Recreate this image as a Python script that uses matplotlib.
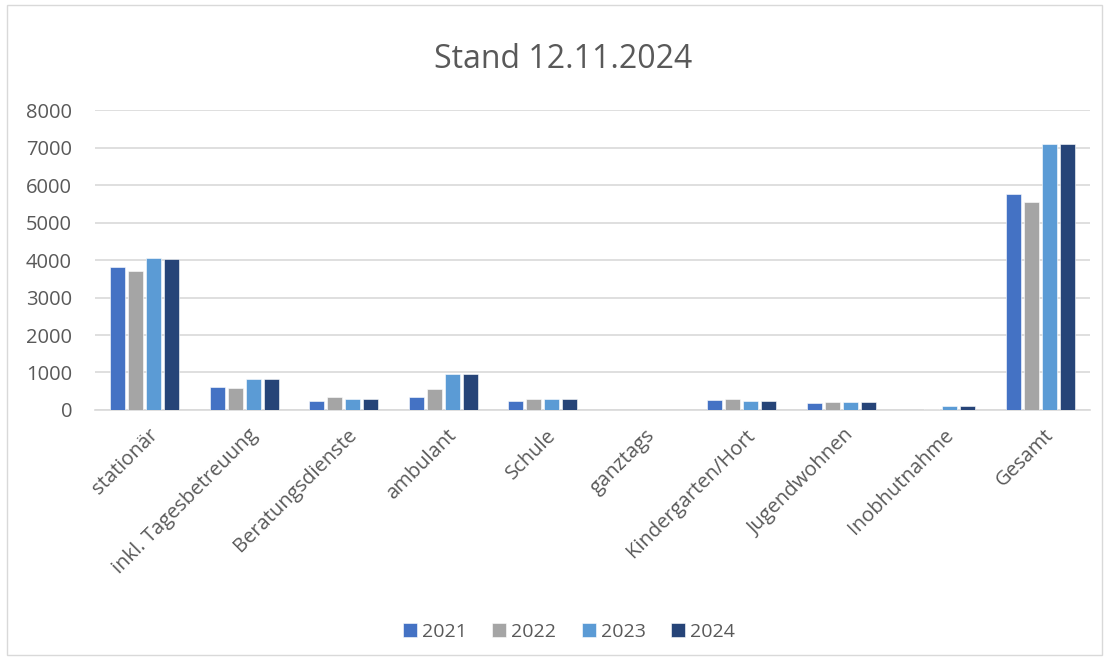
import matplotlib.pyplot as plt
import numpy as np
from matplotlib.patches import Rectangle

plt.rcParams['font.family'] = ['Open Sans', 'DejaVu Sans']

kategorien = ['stationär', 'inkl. Tagesbetreuung', 'Beratungsdienste', 'ambulant',
              'Schule', 'ganztags', 'Kindergarten/Hort', 'Jugendwohnen',
              'Inobhutnahme', 'Gesamt']
jahre = ['2021', '2022', '2023', '2024']

w2021 = [3810, 600, 250, 340, 250, 8, 270, 190, 10, 5760]
w2022 = [3720, 580, 340, 560, 300, 10, 290, 205, 35, 5540]
w2023 = [4060, 820, 300, 970, 300, 12, 235, 225, 100, 7100]
w2024 = [4020, 820, 300, 970, 300, 12, 235, 225, 100, 7100]

farben = ['#4472C4', '#A5A5A5', '#5B9BD5', '#264478']
grau = '#595959'

fig = plt.figure(figsize=(11.09, 6.62), dpi=100)
# Rahmen um das Diagramm
fig.patches.append(Rectangle((0.006, 0.01), 0.988, 0.982, transform=fig.transFigure,
                             fill=False, edgecolor='#D9D9D9', linewidth=1))
ax = fig.add_axes([0.0857, 0.3807, 0.897, 0.453])

x = np.arange(len(kategorien))
breite = 0.15
abstand = 0.181
for i, (werte, jahr) in enumerate(zip([w2021, w2022, w2023, w2024], jahre)):
    ax.bar(x + (i - 1.5) * abstand, werte, breite, color=farben[i], label=jahr,
           edgecolor='white', linewidth=0.4, zorder=3)

ax.set_xlim(-0.5, len(kategorien) - 0.5)
ax.set_ylim(0, 8000)
ax.set_yticks(range(0, 8001, 1000))
ax.yaxis.grid(True, color='#D9D9D9', linewidth=1.2, zorder=0)
ax.set_xticks(x + 0.03)
ax.set_xticklabels(kategorien, rotation=45, ha='right', rotation_mode='anchor')
ax.tick_params(axis='both', length=0, labelsize=14.5, colors=grau)
ax.tick_params(axis='y', pad=16.5)
ax.tick_params(axis='x', labelsize=14.5, pad=11)
for s in ['top', 'right', 'left']:
    ax.spines[s].set_visible(False)
ax.spines['bottom'].set_color('#D9D9D9')
ax.spines['bottom'].set_linewidth(1.2)

fig.suptitle('Stand 12.11.2024', x=0.508, y=0.935, fontsize=23, color=grau)

fig.legend(loc='center', bbox_to_anchor=(0.513, 0.046), ncol=4, frameon=False,
           fontsize=14, labelcolor=grau, handlelength=0.72, handleheight=0.72,
           handletextpad=0.26, columnspacing=1.3)

plt.savefig('out.png', dpi=100)
